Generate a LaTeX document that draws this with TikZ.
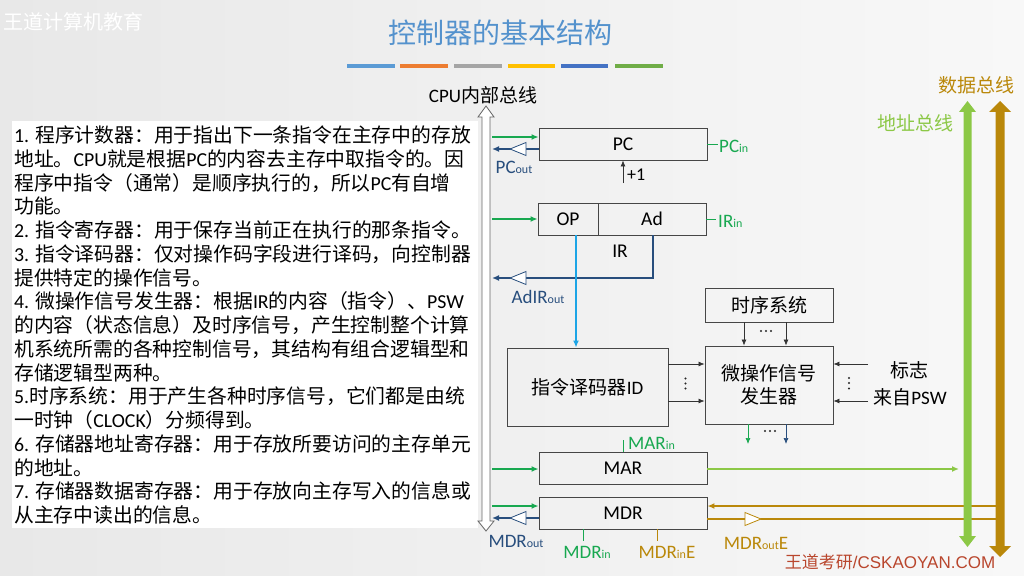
\documentclass[tikz,border=0pt]{standalone}
\usepackage{fontspec}
\setmainfont{Noto Sans CJK SC}
\newfontfamily\lat{Carlito}
\newfontfamily\ars{Liberation Sans}
\usetikzlibrary{arrows.meta}
\definecolor{gsig}{RGB}{24,168,80}
\definecolor{dblue}{RGB}{40,78,125}
\definecolor{lblue}{RGB}{28,165,230}
\definecolor{lgreen}{RGB}{140,200,70}
\definecolor{gold}{RGB}{186,136,10}
\definecolor{ttl}{RGB}{84,146,205}
\definecolor{wm}{RGB}{185,70,45}
\definecolor{boxc}{RGB}{70,70,70}
\definecolor{barA}{RGB}{91,155,213}
\definecolor{barB}{RGB}{237,125,49}
\definecolor{barC}{RGB}{165,165,165}
\definecolor{barD}{RGB}{255,192,0}
\definecolor{barE}{RGB}{68,114,196}
\definecolor{barF}{RGB}{112,173,71}
\newcommand\sg[2]{#1{\fontsize{12}{12}\selectfont #2}}
\newcommand\tline[2]{\node[txt] (t#1) at (14,{142.5+(#1-1)*23.75}) {#2};}
\begin{document}
\begin{tikzpicture}[x=1pt,y=-1pt,
  reg/.style={draw=boxc, line width=0.9pt, minimum width=168pt, minimum height=32pt, inner sep=0pt, font={\lat\fontsize{19.5}{20}\selectfont}},
  cbox/.style={draw=boxc, line width=0.9pt, inner sep=0pt, align=center, font={\fontsize{19}{23}\selectfont}},
  txt/.style={anchor=base west, inner sep=0pt, font={\fontsize{19.8}{23}\selectfont}},
  lbl/.style={inner sep=0pt, font={\lat\fontsize{19}{20}\selectfont}},
  gin/.style={draw=gsig, line width=1.6pt, -{Latex[length=7pt,width=6pt]}},
  bout/.style={draw=dblue, line width=1.6pt, -{Latex[length=7pt,width=6pt]}},
  blk/.style={draw=black!80, line width=0.7pt, -{Latex[length=6pt,width=5pt]}},
  ctl/.style={line width=0.6pt},
  buf/.style={line width=0.8pt, fill=white},
  vdot/.style={fill=black!85}
]
\useasboundingbox (0,0) rectangle (1024,575);
\fill[left color={rgb,255:red,232;green,232;blue,232}, right color={rgb,255:red,248;green,248;blue,248}] (0,0) rectangle (1024,575);
\fill[white] (12,121) rectangle (478,528);

% header
\node[anchor=west, text=white, font={\fontsize{20}{22}\selectfont}] (logo) at (0,22) {王道计算机教育};
\node[text=ttl, font={\fontsize{28}{30}\selectfont}] (title) at (500,33) {控制器的基本结构};
\foreach \a/\b/\c in {347/395/barA,400/448/barB,454/502/barC,508/555/barD,561/608/barE,615/663/barF}
  \fill[\c] (\a,64) rectangle (\b,68);

% left text
\tline{1}{{\lat 1. }程序计数器：用于指出下一条指令在主存中的存放}
\tline{2}{地址。{\lat CPU}就是根据{\lat PC}的内容去主存中取指令的。因}
\tline{3}{程序中指令（通常）是顺序执行的，所以{\lat PC}有自增}
\tline{4}{功能。}
\tline{5}{{\lat 2. }指令寄存器：用于保存当前正在执行的那条指令。}
\tline{6}{{\lat 3. }指令译码器：仅对操作码字段进行译码，向控制器}
\tline{7}{提供特定的操作信号。}
\tline{8}{{\lat 4. }微操作信号发生器：根据{\lat IR}的内容（指令）、{\lat PSW}}
\tline{9}{的内容（状态信息）及时序信号，产生控制整个计算}
\tline{10}{机系统所需的各种控制信号，其结构有组合逻辑型和}
\tline{11}{存储逻辑型两种。}
\tline{12}{{\lat 5.}时序系统：用于产生各种时序信号，它们都是由统}
\tline{13}{一时钟（{\lat CLOCK}）分频得到。}
\tline{14}{{\lat 6. }存储器地址寄存器：用于存放所要访问的主存单元}
\tline{15}{的地址。}
\tline{16}{{\lat 7. }存储器数据寄存器：用于存放向主存写入的信息或}
\tline{17}{从主存中读出的信息。}

% CPU internal bus
\node[font={\fontsize{19}{20}\selectfont}] (cpubus) at (483,95) {{\lat CPU}内部总线};
\filldraw[draw=black!60, fill=white, line width=0.8pt]
  (486,106) -- (494,117) -- (490,117) -- (490,521) -- (494,521) -- (486,531)
  -- (478,521) -- (482,521) -- (482,117) -- (478,117) -- cycle;

% registers
\node[reg] (pc) at (623,144) {PC};
\node[reg, minimum width=60pt] (op) at (568,219) {OP};
\node[reg, minimum width=108pt] (ad) at (652,219) {Ad};
\node[lbl, font={\lat\fontsize{19.5}{20}\selectfont}] (irl) at (620,251) {IR};
\node[cbox, minimum width=128pt, minimum height=34pt] (ts) at (769,305) {时序系统};
\node[cbox, minimum width=128pt, minimum height=78pt] (mo) at (769,385) {微操作信号\\发生器};
\node[cbox, minimum width=161pt, minimum height=78pt] (id) at (587.5,387) {指令译码器{\lat ID}};
\node[reg] (mar) at (623,468) {MAR};
\node[reg] (mdr) at (623,513) {MDR};

% green inputs from internal bus
\coordinate (b1) at (492,137);
\coordinate (b2) at (492,219);
\coordinate (b3) at (492,469);
\coordinate (b4) at (492,506);
\draw[gin] (b1) -- (b1 -| pc.west);
\draw[gin] (b2) -- (op.west);
\draw[gin] (b3) -- (b3 -| mar.west);
\draw[gin] (b4) -- (b4 -| mdr.west);

% dark blue outputs to internal bus
\coordinate (o1) at (492,149);
\coordinate (o2) at (492,278);
\coordinate (o3) at (492,518);
\coordinate (adx) at (653,0);
\draw[bout] (o1 -| pc.west) -- (o1);
\draw[bout] (ad.south -| adx) |- (o2);
\draw[bout] (o3 -| mdr.west) -- (o3);
\foreach \yy in {149,278,518}
  \draw[buf, draw=dblue] (526,\yy-6.5) -- (510,\yy) -- (526,\yy+6.5) -- cycle;

% OP to ID
\coordinate (lbx) at (576,0);
\draw[draw=lblue, line width=1.6pt, -{Latex[length=7pt,width=6pt]}] (op.south -| lbx) -- (id.north -| lbx);

% +1
\coordinate (p1) at (623,183);
\draw[blk] (p1) -- (pc.south);
\node[lbl, anchor=west, font={\lat\fontsize{18}{20}\selectfont}] (plus) at (627,175) {+1};

% timing to micro-op
\coordinate (x1) at (744,0);
\coordinate (x2) at (786,0);
\draw[blk] (ts.south -| x1) -- (mo.north -| x1);
\draw[blk] (ts.south -| x2) -- (mo.north -| x2);
\foreach \xx in {761,766,771} \fill[vdot] (\xx,331) circle (1.2);

% ID to micro-op
\coordinate (y1) at (0,364);
\coordinate (y2) at (0,401);
\draw[blk] (id.east |- y1) -- (mo.west |- y1);
\draw[blk] (id.east |- y2) -- (mo.west |- y2);
\foreach \yy in {378.5,383.5,388.5} \fill[vdot] (685.5,\yy) circle (1.2);

% flags
\coordinate (f1) at (868,364);
\coordinate (f2) at (868,401);
\draw[blk] (f1) -- (mo.east |- f1);
\draw[blk] (f2) -- (mo.east |- f2);
\foreach \yy in {378,383,388.5} \fill[vdot] (849,\yy) circle (1.2);
\node[font={\fontsize{19}{20}\selectfont}] (flag) at (909.5,370) {标志};
\node[font={\fontsize{19}{20}\selectfont}] (psw) at (910,397) {来自{\lat PSW}};

% micro-op outputs
\coordinate (m1) at (748,444);
\coordinate (m2) at (786,444);
\draw[draw=gsig, line width=0.7pt, -{Latex[length=6pt,width=5pt]}] (mo.south -| m1) -- (m1);
\draw[draw=dblue, line width=0.7pt, -{Latex[length=6pt,width=5pt]}] (mo.south -| m2) -- (m2);
\foreach \xx in {765,770,775} \fill[vdot] (\xx,431) circle (1.2);

% control signals
\coordinate (pcin) at (718,144);
\draw[ctl, gsig] (pc.east) -- (pcin);
\node[lbl, anchor=west, text=gsig] (pcinl) at (719,146) {\sg{PC}{in}};
\node[lbl, text=dblue] (pcoutl) at (514,167) {\sg{PC}{out}};
\coordinate (irin) at (716,219);
\draw[ctl, gsig] (ad.east) -- (irin);
\node[lbl, anchor=west, text=gsig] (irinl) at (718,221) {\sg{IR}{in}};
\node[lbl, text=dblue] (adirl) at (538,297) {\sg{AdIR}{out}};
\coordinate (marin) at (623,440);
\draw[ctl, gsig] (mar.north) -- (marin);
\node[lbl, anchor=west, text=gsig] (marinl) at (628,443) {\sg{MAR}{in}};
\node[lbl, text=dblue] (mdroutl) at (516,541) {\sg{MDR}{out}};
\coordinate (mdrin) at (583,541);
\draw[ctl, gsig] (mdr.south -| mdrin) -- (mdrin);
\node[lbl, text=gsig] (mdrinl) at (587,552) {\sg{MDR}{in}};
\coordinate (mdrie) at (657,541);
\draw[ctl, gold] (mdr.south -| mdrie) -- (mdrie);
\node[lbl, text=gold] (mdriel) at (667,552) {\sg{MDR}{in}E};
\node[lbl, text=gold] (mdroel) at (756,543) {\sg{MDR}{out}E};

% MAR to address bus
\coordinate (ab) at (959,469);
\draw[draw=lgreen, line width=1.6pt, -{Latex[length=7pt,width=6pt]}] (ab -| mar.east) -- (ab);

% data bus lines
\coordinate (db1) at (996,506);
\coordinate (db2) at (996,519);
\draw[draw=gold, line width=1.6pt, -{Latex[length=7pt,width=6pt]}] (db1) -- (db1 -| mdr.east);
\draw[draw=gold, line width=1.6pt] (db2 -| mdr.east) -- (db2);
\draw[buf, draw=gold] (745,512.5) -- (761,519) -- (745,525.5) -- cycle;

% system buses
\fill[lgreen] (967.5,101) -- (976,112) -- (971.5,112) -- (971.5,536) -- (976,536) -- (967.5,547)
  -- (959,536) -- (963.5,536) -- (963.5,112) -- (959,112) -- cycle;
\fill[gold] (1000,101) -- (1011,112) -- (1004.5,112) -- (1004.5,546) -- (1011,546) -- (1000,557)
  -- (989,546) -- (995.5,546) -- (995.5,112) -- (989,112) -- cycle;
\node[text=lgreen, font={\fontsize{19}{20}\selectfont}] (abl) at (915,123) {地址总线};
\node[text=gold, font={\fontsize{19}{20}\selectfont}] (dbl) at (976,85) {数据总线};

% watermark
\node[text=wm, font={\fontsize{17}{18}\selectfont}] (wml) at (890,562) {王道考研{\ars /CSKAOYAN.COM}};
\end{tikzpicture}
\end{document}
